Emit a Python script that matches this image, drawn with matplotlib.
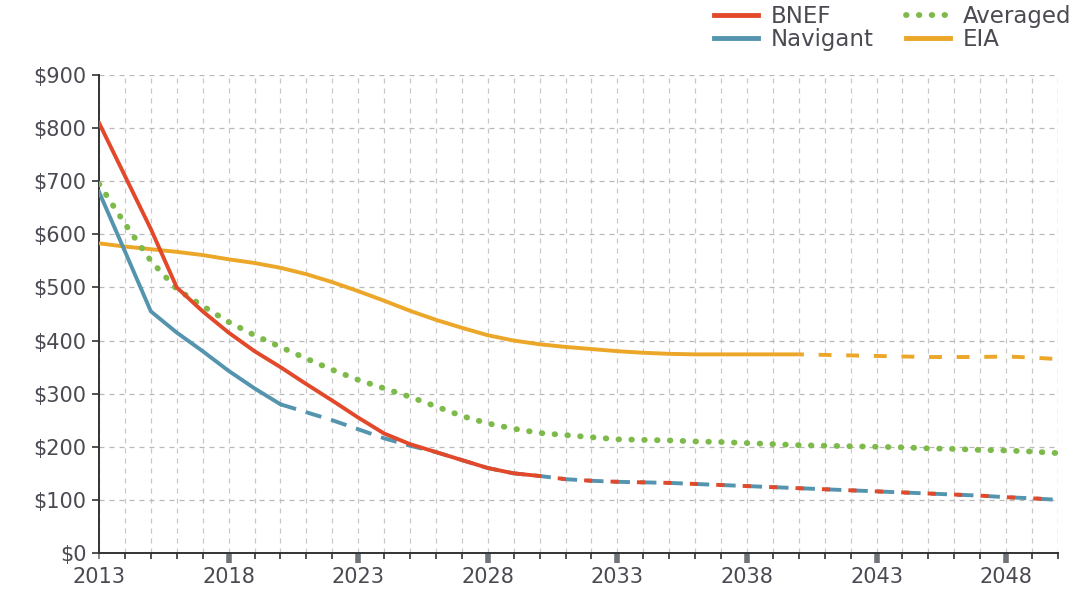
import matplotlib
matplotlib.use("Agg")
import matplotlib.pyplot as plt
from matplotlib.lines import Line2D
import numpy as np

years = list(range(2013, 2051))

bnef = [810, 710, 610, 500, 455, 415, 380, 350, 318, 287, 255, 225, 205, 190, 175, 160,
        150, 145, 139, 136, 134, 133, 132, 130, 128, 126, 124, 122, 120, 118, 116, 114,
        112, 110, 108, 105, 103, 100]
navigant = [680, 568, 455, 415, 380, 343, 310, 280, 265, 250, 233, 216, 202, 190, 175, 160,
            150, 145, 139, 136, 134, 133, 132, 130, 128, 126, 124, 122, 120, 118, 116, 114,
            112, 110, 108, 105, 103, 100]
averaged = [695, 620, 550, 497, 465, 435, 410, 388, 366, 345, 326, 310, 294, 276, 258, 244,
            234, 226, 222, 218, 214, 213, 212, 210, 209, 207, 205, 203, 202, 201, 200, 199,
            197, 196, 194, 193, 191, 188]
eia = [583, 577, 572, 567, 561, 553, 546, 537, 525, 510, 493, 475, 456, 439, 424, 410,
       400, 393, 388, 384, 380, 377, 375, 374, 374, 374, 374, 374, 373, 372, 371, 370,
       369, 369, 369, 370, 368, 365]

bnef_solid_end = 2030
navigant_solid_end = 2020
eia_solid_end = 2040

y_ticks = [0, 100, 200, 300, 400, 500, 600, 700, 800, 900]
y_labels = ["$0", "$100", "$200", "$300", "$400", "$500", "$600", "$700", "$800", "$900"]
x_major = [2013, 2018, 2023, 2028, 2033, 2038, 2043, 2048]

RED = "#E2492B"
BLUE = "#5494AE"
GREEN = "#7DBA4A"
ORANGE = "#ECA628"
TXT = "#4A4A52"

plt.rcParams['font.family'] = ['DejaVu Sans']

fig = plt.figure(figsize=(10.9, 5.91), dpi=100)
ax = fig.add_axes([99/1090, 1-553/591, (1058-99)/1090, (553-75)/591])

yrs = np.array(years)
def split(vals, end):
    v = np.array(vals, dtype=float)
    m1 = yrs <= end
    m2 = yrs >= end
    return yrs[m1], v[m1], yrs[m2], v[m2]

lw = 2.8
# EIA
x1, y1, x2, y2 = split(eia, eia_solid_end)
ax.plot(x1, y1, color=ORANGE, lw=lw, solid_capstyle='butt', zorder=3)
ax.plot(x2, y2, color=ORANGE, lw=lw, linestyle=(2, (3.3, 3.8)), zorder=3)

# Averaged
ax.plot(yrs, averaged, color=GREEN, lw=4.2, linestyle=(0, (0.1, 2.1)),
        dash_capstyle='round', zorder=3)

# Navigant
x1, y1, x2, y2 = split(navigant, navigant_solid_end)
ax.plot(x1, y1, color=BLUE, lw=lw, zorder=4)
ax.plot(x2, y2, color=BLUE, lw=lw, linestyle=(0, (4.2, 2.6)), zorder=4, clip_on=False)

# BNEF
x1, y1, x2, y2 = split(bnef, bnef_solid_end)
ax.plot(x1, y1, color=RED, lw=lw, zorder=5)
ax.plot(x2, y2, color=RED, lw=lw, linestyle=(2.1, (2.1, 4.7)), zorder=5)

ax.set_xlim(2013, 2050)
ax.set_ylim(0, 900)

ax.set_yticks(y_ticks)
ax.set_yticklabels(y_labels)
ax.set_xticks(x_major)
ax.set_xticklabels([str(v) for v in x_major])
ax.set_xticks(years, minor=True)

ax.grid(True, which='both', axis='x', linestyle=(0, (4, 4)), color="#C8C8C8", lw=0.9, zorder=0)
ax.grid(True, which='major', axis='y', linestyle=(0, (4, 4)), color="#B8B8B8", lw=0.9, zorder=0)
ax.axvline(2050, color="#C8C8C8", lw=0.9, linestyle=(0, (4, 4)), zorder=0)

for s in ['top', 'right']:
    ax.spines[s].set_visible(False)
for s in ['left', 'bottom']:
    ax.spines[s].set_color("#333333")
    ax.spines[s].set_linewidth(1.4)

ax.tick_params(axis='x', which='major', length=7, width=4, color="#6E7479",
               labelsize=15, labelcolor=TXT, pad=3)
ax.tick_params(axis='x', which='minor', length=4, width=1.2, color="#333333")
ax.tick_params(axis='y', which='major', length=5, width=1.2, color="#333333",
               labelsize=15, labelcolor=TXT, pad=4)
t0 = ax.xaxis.get_major_ticks()[0]
t0.tick1line.set_markeredgewidth(1.2)
t0.tick1line.set_markersize(4)
t0.tick1line.set_color("#333333")

handles = [
    Line2D([], [], color=RED, lw=3.5),
    Line2D([], [], color=BLUE, lw=3.5),
    Line2D([], [], color=GREEN, lw=4.2, linestyle=(0, (0.1, 2.1)), dash_capstyle='round'),
    Line2D([], [], color=ORANGE, lw=3.5),
]
labels = ["BNEF", "Navigant", "Averaged", "EIA"]
leg = fig.legend(handles, labels, ncol=2, loc='upper right',
                 bbox_to_anchor=(1071/1090, 1 - 5/591), frameon=False, fontsize=16.5,
                 handlelength=1.9, handleheight=0.6, columnspacing=1.45, labelspacing=0.0,
                 handletextpad=0.55, borderaxespad=0, borderpad=0)
for t in leg.get_texts():
    t.set_color(TXT)

fig.savefig("out.png", dpi=100)
